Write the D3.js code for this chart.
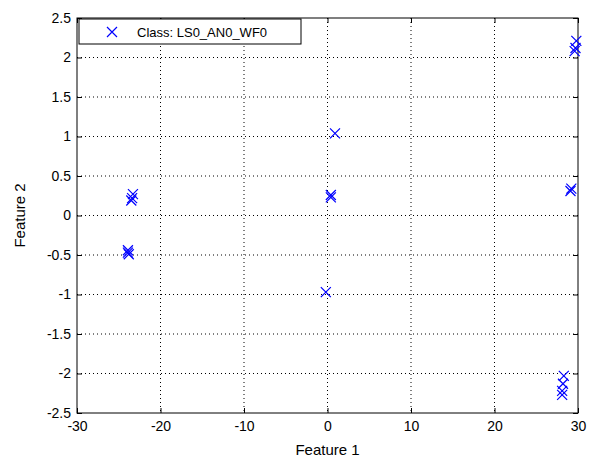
<!DOCTYPE html>
<html>
<head>
    <meta charset="utf-8">
    <script src="https://d3js.org/d3.v7.min.js"></script>
    <style>
        body { margin: 0; background: #fff; }
        text { font-family: "Liberation Sans", Arial, sans-serif; }
    </style>
</head>
<body>
    <svg width="593" height="460"></svg>

    <script>
        // Points
        var xValues = [-23.9, -23.9, -23.8, -23.3, -23.4, -23.5, 0.4, 0.4, 0.9, -0.2,
                       29.8, 29.7, 29.6, 29.2, 29.1, 28.3, 28.2, 28.1, 28.1];
        var yValues = [-0.44, -0.47, -0.49, 0.27, 0.22, 0.19, 0.23, 0.26, 1.04, -0.97,
                       2.21, 2.12, 2.08, 0.34, 0.31, -2.03, -2.13, -2.22, -2.27];
        var xTicks = [-30, -20, -10, 0, 10, 20, 30];
        var yTicks = [-2.5, -2, -1.5, -1, -0.5, 0, 0.5, 1, 1.5, 2, 2.5];
        var legendLabel = "Class: LS0_AN0_WF0";

        var data = xValues.map(function(d, i) { return {x: d, y: yValues[i]}; });

        var margin = {top: 18, right: 15, bottom: 47, left: 77},
            width = 593 - margin.left - margin.right,
            height = 460 - margin.top - margin.bottom;

        var svg = d3.select("svg")
          .append("g")
            .attr("transform", "translate(" + margin.left + "," + margin.top + ")");

        var x = d3.scaleLinear().domain([-30, 30]).range([0, width]);
        var y = d3.scaleLinear().domain([-2.5, 2.5]).range([height, 0]);

        // plain hyphen for negatives, like the original
        var fmt = function(d) { return String(d); };

        // dotted grid
        svg.append("g").selectAll("line").data(xTicks.slice(1, -1)).enter().append("line")
            .attr("x1", function(d) { return x(d); }).attr("x2", function(d) { return x(d); })
            .attr("y1", 0).attr("y2", height)
            .attr("stroke", "#000").attr("stroke-width", 1).attr("stroke-dasharray", "1,3");
        svg.append("g").selectAll("line").data(yTicks.slice(1, -1)).enter().append("line")
            .attr("y1", function(d) { return y(d); }).attr("y2", function(d) { return y(d); })
            .attr("x1", 0).attr("x2", width)
            .attr("stroke", "#000").attr("stroke-width", 1).attr("stroke-dasharray", "1,3");

        // axes with inward ticks on all four sides
        function styleAxis(g) {
            g.select(".domain").remove();
            g.selectAll("text").attr("font-size", 14).attr("fill", "#000")
              .attr("font-family", "Liberation Sans, Arial, sans-serif");
            g.selectAll("line").attr("stroke", "#000");
        }
        svg.append("g").attr("transform", "translate(0," + height + ")")
            .call(d3.axisBottom(x).tickValues(xTicks).tickSize(-5).tickPadding(8).tickFormat(fmt))
            .call(styleAxis);
        svg.append("g")
            .call(d3.axisLeft(y).tickValues(yTicks).tickSize(-5).tickPadding(6).tickFormat(fmt))
            .call(styleAxis);
        svg.append("g")
            .call(d3.axisTop(x).tickValues(xTicks).tickSize(-5).tickFormat(""))
            .call(styleAxis);
        svg.append("g").attr("transform", "translate(" + width + ",0)")
            .call(d3.axisRight(y).tickValues(yTicks).tickSize(-5).tickFormat(""))
            .call(styleAxis);

        svg.append("rect").attr("width", width).attr("height", height)
            .attr("fill", "none").attr("stroke", "#000").attr("stroke-width", 1);

        // x markers
        var s = 5;
        svg.append("g").selectAll("path").data(data).enter().append("path")
            .attr("d", function(d) {
                var cx = x(d.x), cy = y(d.y);
                return "M" + (cx - s) + "," + (cy - s) + "L" + (cx + s) + "," + (cy + s) +
                       "M" + (cx - s) + "," + (cy + s) + "L" + (cx + s) + "," + (cy - s);
            })
            .attr("stroke", "#0000ff").attr("stroke-width", 1.2).attr("fill", "none");

        // legend
        var lg = svg.append("g").attr("transform", "translate(2,1)");
        lg.append("rect").attr("width", 222).attr("height", 25)
            .attr("fill", "#fff").attr("stroke", "#000");
        lg.append("path").attr("d", "M" + (33 - s) + "," + (13 - s) + "l10,10M" + (33 - s) + "," + (13 + s) + "l10,-10")
            .attr("stroke", "#0000ff").attr("stroke-width", 1.2);
        lg.append("text").attr("x", 58).attr("y", 18).attr("font-size", 13).text(legendLabel);

        // axis labels
        svg.append("text").attr("x", width / 2).attr("y", height + 42)
            .attr("text-anchor", "middle").attr("font-size", 15).text("Feature 1");
        svg.append("text").attr("transform", "translate(-52," + (height / 2) + ") rotate(-90)")
            .attr("text-anchor", "middle").attr("font-size", 15).text("Feature 2");
    </script>
</body>
</html>
